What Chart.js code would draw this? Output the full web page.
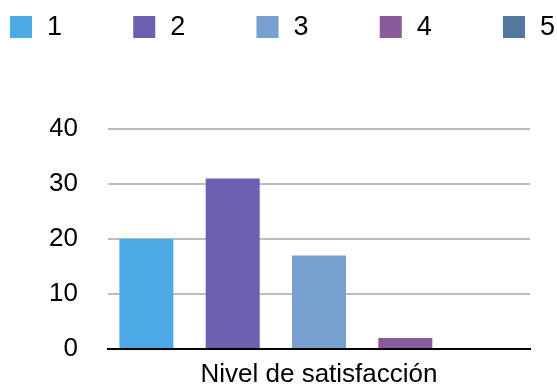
<!DOCTYPE html>
<html>
<head>
<meta charset="utf-8">
<script src="https://cdn.jsdelivr.net/npm/chart.js@4.4.1/dist/chart.umd.min.js"></script>
<style>
    html, body { margin: 0; padding: 0; background: #fff; }
    #grafico { display: block; }
</style>
</head>
<body>
<canvas id="grafico" width="557" height="387"></canvas>
<script>
// Respuestas por nivel (una serie por nivel, una sola categoría)
const categorias = ['Nivel de satisfacción'];
const niveles = ['1', '2', '3', '4', '5'];
const respuestas = [20, 31, 17, 2, 0];
const colores = ['#4caae6', '#6b60af', '#779fd0', '#8a5b9b', '#55779d'];
const ejeY = { min: 0, max: 40, paso: 10 };

const fuente = '"Liberation Sans", Arial, Helvetica, sans-serif';

// leyenda en una sola fila, aunque se salga del lienzo por la derecha
const leyendaFila = {
    id: 'leyendaFila',
    afterDraw(chart) {
        const ctx = chart.ctx;
        ctx.save();
        ctx.font = '27px ' + fuente;
        ctx.textBaseline = 'middle';
        ctx.textAlign = 'left';
        chart.data.datasets.forEach((ds, i) => {
            const x = 10 + i * 123.25;
            ctx.fillStyle = ds.backgroundColor;
            ctx.fillRect(x, 16, 22, 22);
            ctx.fillStyle = '#000';
            ctx.fillText(ds.label, x + 37, 28);
        });
        ctx.restore();
    }
};

document.addEventListener('DOMContentLoaded', function () {
    const ctx = document.getElementById('grafico').getContext('2d');
    new Chart(ctx, {
        type: 'bar',
        data: {
            labels: categorias,
            datasets: niveles.map((nivel, i) => ({
                label: nivel,
                data: [respuestas[i]],
                backgroundColor: colores[i],
                borderWidth: 0,
                categoryPercentage: 1.0225,
                barPercentage: 0.626
            }))
        },
        options: {
            responsive: false,
            animation: false,
            layout: {
                padding: { top: 129, left: 50, right: 27, bottom: 0 }
            },
            plugins: {
                legend: { display: false },
                tooltip: { enabled: false }
            },
            scales: {
                x: {
                    grid: { display: false, drawTicks: false },
                    border: { display: true, color: '#000', width: 2 },
                    ticks: {
                        color: '#000',
                        padding: 13,
                        font: { family: fuente, size: 26, lineHeight: 1 }
                    },
                    afterFit(scale) {
                        scale.height = 38;
                        scale.paddingLeft = 0;
                        scale.paddingRight = 0;
                    }
                },
                y: {
                    min: ejeY.min,
                    max: ejeY.max,
                    ticks: {
                        stepSize: ejeY.paso,
                        color: '#000',
                        padding: 30,
                        font: { family: fuente, size: 26 }
                    },
                    grid: {
                        color: '#bcbcbc',
                        lineWidth: 2,
                        drawTicks: false
                    },
                    border: { display: false },
                    afterFit(scale) {
                        scale.width = 58;
                        scale.paddingTop = 0;
                        scale.paddingBottom = 0;
                    }
                }
            }
        },
        plugins: [leyendaFila]
    });
});
</script>
</body>
</html>
